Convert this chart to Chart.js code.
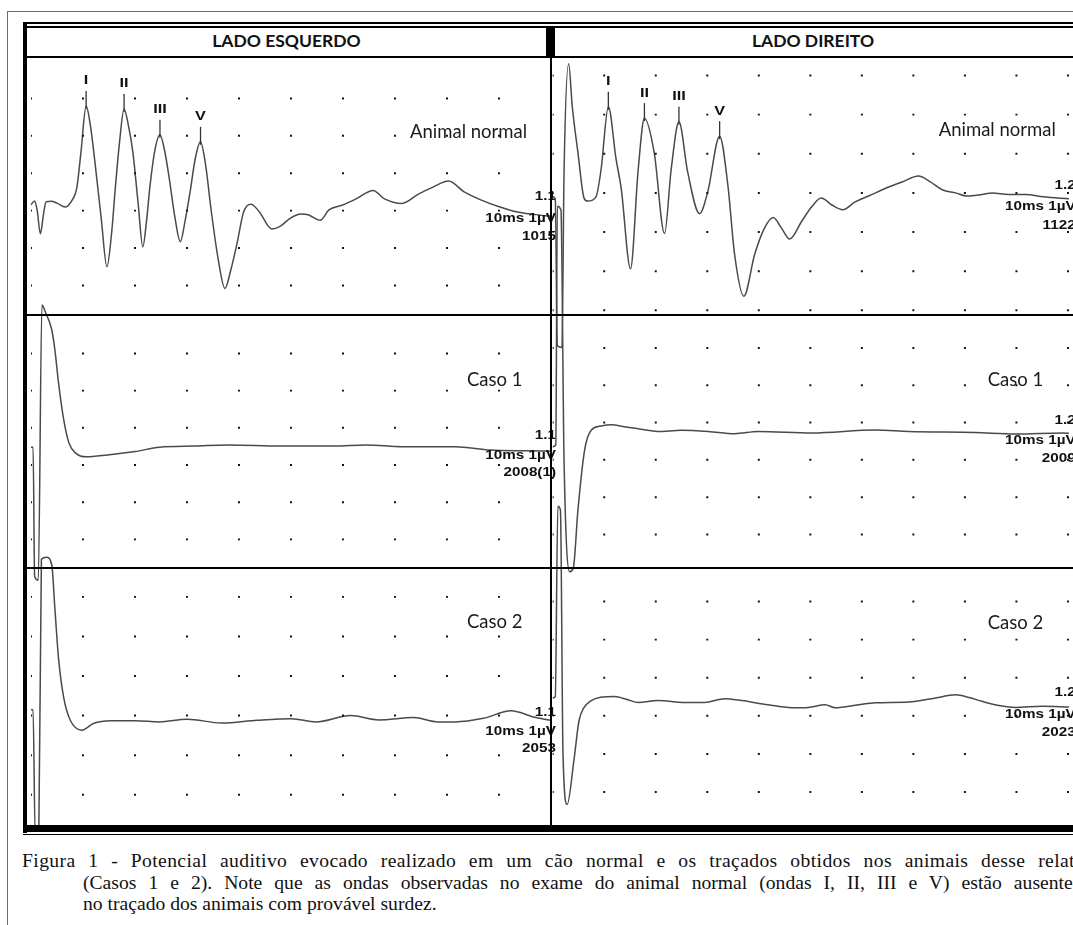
<!DOCTYPE html>
<html>
<head>
<meta charset="utf-8">
<title>Potencial auditivo evocado</title>
<script src="https://cdn.jsdelivr.net/npm/chart.js@4.4.1/dist/chart.umd.min.js"></script>
<style>
  html, body { margin: 0; padding: 0; background: #fff; width: 1073px; height: 925px; overflow: hidden; }
  .abs { position: absolute; }
  .blk { position: absolute; background: #000; }
  #outer { left: 7px; top: 11px; width: 1100px; height: 1000px; border-top: 1px solid #6b6b6b; border-left: 1px solid #6b6b6b; }
  .side { position: absolute; top: 30px; height: 26px; line-height: 26px; text-align: center;
          font: bold 17.5px Lato, sans-serif; color: #111; }
  .cap { position: absolute; font: 18px "Liberation Serif", "Times New Roman", serif; color: #111;
         line-height: 21px; white-space: nowrap; transform-origin: left top; transform: scaleX(1.09); }
  .just { white-space: normal; text-align: justify; text-align-last: justify; }
  canvas { position: absolute; left: 27px; top: 57px; }
</style>
</head>
<body>
<div id="outer" class="abs"></div>
<div id="charts"></div>

<!-- moldura da figura -->
<div class="blk" style="left:23px; top:22px; width:1060px; height:2px;"></div>
<div class="blk" style="left:23px; top:26px; width:1060px; height:2px;"></div>
<div class="blk" style="left:23px; top:22px; width:4px; height:811px;"></div>
<div class="blk" style="left:27px; top:56px; width:1050px; height:2px;"></div>
<div class="blk" style="left:546px; top:27px; width:9px; height:30px;"></div>
<div class="blk" style="left:550px; top:57px; width:2px; height:771px;"></div>
<div class="blk" style="left:27px; top:314px; width:1050px; height:2px;"></div>
<div class="blk" style="left:27px; top:567px; width:1050px; height:2px;"></div>
<div class="blk" style="left:23px; top:825px; width:1060px; height:7px;"></div>
<div class="blk" style="left:23px; top:834px; width:1060px; height:1px;"></div>

<div id="sideL" class="side" style="left:27px; width:519px;"></div>
<div id="sideR" class="side" style="left:555px; width:516px;"></div>

<div class="cap just" style="left:22px; top:851px; width:966px; letter-spacing:0.35px;">Figura 1 - Potencial auditivo evocado realizado em um cão normal e os traçados obtidos nos animais desse relat</div>
<div class="cap just" style="left:83px; top:873px; width:908px;">(Casos 1 e 2). Note que as ondas observadas no exame do animal normal (ondas I, II, III e V) estão ausente</div>
<div class="cap" style="left:83px; top:894px;">no traçado dos animais com provável surdez.</div>

<script>
// ---- dados (x em divisões de 1 quadrícula, y em divisões) ----
const sideTitles = ["LADO ESQUERDO", "LADO DIREITO"];
const rowNames = ["Animal normal", "Caso 1", "Caso 2"];
const sweepText = "10ms 1µV";
const gainLeft = "1.1";
const gainRight = "1.2";
const recordLeft = ["1015", "2008(1)", "2053"];
const recordRight = ["1122", "2009", "2023"];

const gridCols = [0, 1, 2, 3, 4, 5, 6, 7, 8, 9, 10];
const gridRows = [-2, -1, 0, 1, 2, 3];
const gridRowsTopRight = [-3, -2, -1, 0, 1, 2, 3];

// animal normal - lado esquerdo
const normalLeftX = [0, 0.07, 0.12, 0.18, 0.24, 0.29, 0.39, 0.5, 0.66, 0.8, 0.88, 0.96, 1.06, 1.14, 1.23, 1.35, 1.46, 1.55, 1.62, 1.7, 1.79, 1.87, 1.96, 2.06, 2.15, 2.22, 2.29, 2.38, 2.48, 2.57, 2.66, 2.77, 2.87, 2.96, 3.06, 3.16, 3.26, 3.36, 3.46, 3.6, 3.73, 3.84, 3.96, 4.09, 4.23, 4.39, 4.63, 4.79, 4.99, 5.19, 5.33, 5.56, 5.73, 5.99, 6.26, 6.58, 6.79, 7.13, 7.46, 7.73, 8.03, 8.33, 8.66, 8.99, 9.33, 9.66, 10];
const normalLeftY = [0.16, 0.26, 0.0, -0.62, -0.1, 0.24, 0.25, 0.2, 0.1, 0.3, 0.6, 1.55, 2.8, 2.3, 1.29, -0.2, -1.5, -0.6, 0.58, 1.8, 2.72, 2.3, 1.55, 0.2, -0.97, -0.3, 0.68, 1.6, 2.03, 1.6, 0.85, -0.2, -0.83, -0.3, 0.5, 1.4, 1.84, 1.2, 0.06, -1.3, -2.08, -1.6, -0.89, -0.03, 0.17, -0.03, -0.49, -0.42, -0.2, -0.09, -0.11, -0.26, 0.02, 0.15, 0.32, 0.54, 0.32, 0.19, 0.45, 0.63, 0.79, 0.5, 0.28, 0.11, -0.03, -0.1, -0.15];

// animal normal - lado direito
const normalRightX = [0, 0.05, 0.09, 0.18, 0.22, 0.31, 0.38, 0.49, 0.61, 0.68, 0.84, 0.94, 1.08, 1.23, 1.33, 1.51, 1.66, 1.78, 1.97, 2.17, 2.3, 2.45, 2.62, 2.85, 3.01, 3.24, 3.4, 3.53, 3.71, 3.92, 4.11, 4.28, 4.44, 4.6, 4.83, 5.03, 5.21, 5.42, 5.63, 5.87, 6.13, 6.52, 6.78, 7.1, 7.33, 7.56, 7.82, 8.04, 8.33, 8.53, 8.85, 9.18, 9.52, 10.02];
const normalRightY = [-0.1, -0.15, -3.9, -3.95, 0.5, 3.3, 2.2, 1.03, -0.14, -0.21, -0.1, 0.61, 2.2, 0.86, 0.11, -1.94, 0.61, 1.91, 1.03, -1.04, 0.61, 1.82, 0.53, -0.53, 0.03, 1.45, 0.19, -1.57, -2.64, -1.57, -0.9, -0.63, -0.9, -1.18, -0.73, -0.35, -0.13, -0.31, -0.43, -0.23, -0.08, 0.15, 0.28, 0.43, 0.28, 0.08, 0.0, -0.08, -0.04, 0.0, -0.04, -0.04, -0.1, -0.15];

// caso 1
const case1LeftX = [0, 0.04, 0.07, 0.14, 0.21, 0.28, 0.4, 0.46, 0.53, 0.63, 0.73, 0.86, 1.06, 1.47, 2.0, 2.47, 3.14, 3.81, 4.81, 5.82, 6.45, 7.15, 8.16, 8.83, 9.5, 10];
const case1LeftY = [0.48, 0.48, -3.0, -3.1, 4.3, 4.1, 3.63, 3.09, 2.2, 1.21, 0.59, 0.32, 0.22, 0.27, 0.36, 0.48, 0.51, 0.54, 0.51, 0.51, 0.54, 0.49, 0.49, 0.4, 0.38, 0.37];
const case1RightX = [0, 0.06, 0.09, 0.16, 0.22, 0.33, 0.4, 0.49, 0.62, 0.75, 0.94, 1.14, 1.39, 1.71, 2.04, 2.5, 3.02, 3.53, 3.99, 5.03, 6.26, 6.91, 8.2, 8.98, 9.9, 10.02];
const case1RightY = [0.35, 0.4, 6.8, 6.7, 0.0, -3.0, -2.9, -1.34, 0.27, 0.8, 0.91, 0.94, 0.89, 0.82, 0.76, 0.79, 0.76, 0.7, 0.76, 0.72, 0.8, 0.76, 0.73, 0.69, 0.72, 0.71];

// caso 2
const case2LeftX = [0, 0.04, 0.08, 0.15, 0.2, 0.3, 0.4, 0.46, 0.53, 0.63, 0.76, 0.98, 1.2, 1.53, 2.0, 2.47, 3.0, 3.67, 4.35, 5.01, 5.48, 6.15, 6.69, 7.36, 7.83, 8.16, 8.7, 9.23, 9.7, 10];
const case2LeftY = [0.15, 0.15, -3.0, -3.0, 3.95, 4.0, 3.8, 2.69, 1.44, 0.45, -0.13, -0.37, -0.2, -0.13, -0.13, -0.16, -0.09, -0.19, -0.12, -0.08, -0.16, 0.0, -0.11, -0.05, -0.16, -0.16, -0.07, 0.12, -0.05, -0.12];
const case2RightX = [0, 0.05, 0.1, 0.15, 0.2, 0.28, 0.41, 0.51, 0.6, 0.74, 0.93, 1.2, 1.46, 1.66, 2.04, 2.56, 2.95, 3.34, 3.67, 4.18, 4.7, 4.96, 5.29, 5.48, 5.94, 6.26, 6.91, 7.43, 7.82, 8.08, 8.33, 8.66, 8.98, 9.5, 10.02];
const case2RightY = [0.47, 0.5, 5.5, 5.4, -1.0, -2.33, -1.19, -0.13, 0.2, 0.39, 0.49, 0.51, 0.42, 0.35, 0.4, 0.35, 0.35, 0.45, 0.4, 0.29, 0.21, 0.22, 0.29, 0.21, 0.29, 0.34, 0.36, 0.47, 0.55, 0.48, 0.38, 0.27, 0.22, 0.25, 0.23];

// ondas marcadas no animal normal
const waveNames = ["I", "II", "III", "V"];
const peakLeftX = [1.06, 1.79, 2.48, 3.26];
const peakLeftY = [2.8, 2.72, 2.03, 1.84];
const peakRightX = [1.08, 1.78, 2.45, 3.24];
const peakRightY = [2.2, 1.91, 1.82, 1.45];

document.getElementById("sideL").textContent = sideTitles[0];
document.getElementById("sideR").textContent = sideTitles[1];

// ---- layout dos seis painéis (pixels da página) ----
const CANVAS_X = 27, CANVAS_Y = 57, CANVAS_W = 1046, CANVAS_H = 771;

var panels = [
  { box: [28, 551, 57, 315], xMax: 10, yMin: -2.79, yMax: 4.0, rows: gridRows,
    xs: normalLeftX, ys: normalLeftY, name: rowNames[0], nameAt: [379, 71],
    block: [gainLeft, sweepText, recordLeft[0]], blockRight: 525, blockY: [136, 158, 176],
    peaks: [peakLeftX, peakLeftY] },
  { box: [28, 551, 315.5, 568], xMax: 10, yMin: -2.77, yMax: 4.02, rows: gridRows,
    xs: case1LeftX, ys: case1LeftY, name: rowNames[1], nameAt: [436, 64.5],
    block: [gainLeft, sweepText, recordLeft[1]], blockRight: 525, blockY: [120.5, 140.5, 157.5] },
  { box: [28, 551, 568, 828], xMax: 10, yMin: -2.74, yMax: 3.73, rows: gridRows,
    xs: case2LeftX, ys: case2LeftY, name: rowNames[2], nameAt: [436, 54],
    block: [gainLeft, sweepText, recordLeft[2]], blockRight: 525, blockY: [145, 164, 181] },
  { box: [552.7, 1073, 57, 315], xMax: 10.02, yMin: -3.12, yMax: 3.37, rows: gridRowsTopRight,
    xs: normalRightX, ys: normalRightY, name: rowNames[0], nameAt: [386, 69],
    block: [gainRight, sweepText, recordRight[0]], blockRight: 523, blockY: [125, 146, 165],
    peaks: [peakRightX, peakRightY] },
  { box: [552.7, 1073, 315.5, 568], xMax: 10.02, yMin: -2.9, yMax: 3.87, rows: gridRows,
    xs: case1RightX, ys: case1RightY, name: rowNames[1], nameAt: [435, 64.5],
    block: [gainRight, sweepText, recordRight[1]], blockRight: 523, blockY: [105.5, 125.5, 143.5] },
  { box: [552.7, 1073, 568, 828], xMax: 10.02, yMin: -2.84, yMax: 3.88, rows: gridRows,
    xs: case2RightX, ys: case2RightY, name: rowNames[2], nameAt: [435, 55],
    block: [gainRight, sweepText, recordRight[2]], blockRight: 523, blockY: [125, 147, 165] }
];

function toPoints(xs, ys) {
  return xs.map(function (x, i) { return { x: x, y: ys[i] }; });
}

function gridPoints(cols, rows) {
  var pts = [];
  rows.forEach(function (r) { cols.forEach(function (c) { pts.push({ x: c, y: r }); }); });
  return pts;
}

// textos do painel: nome, bloco de calibração e marcas das ondas
const panelText = {
  id: "panelText",
  afterDatasetsDraw(chart, args, opts) {
    if (!opts || !opts.name) return;
    const ctx = chart.ctx, a = chart.chartArea;
    const sx = chart.scales.x, sy = chart.scales.y;
    ctx.save();
    ctx.textBaseline = "middle";

    ctx.fillStyle = "#1c1c1c";
    ctx.font = "18.5px Lato, sans-serif";
    ctx.textAlign = "left";
    ctx.fillText(opts.name, a.left + opts.nameAt[0], a.top + opts.nameAt[1]);

    ctx.fillStyle = "#111";
    ctx.font = "bold 12.5px 'Liberation Sans', Arial, sans-serif";
    ctx.textAlign = "right";
    opts.block.forEach(function (s, i) {
      ctx.save();
      ctx.translate(a.left + opts.blockRight, a.top + opts.blockY[i]);
      ctx.scale(1.22, 1);
      ctx.fillText(s, 0, 0);
      ctx.restore();
    });

    if (opts.peaks) {
      ctx.strokeStyle = "#333";
      ctx.lineWidth = 1.3;
      ctx.textAlign = "center";
      ctx.font = "bold 13px 'Liberation Sans', Arial, sans-serif";
      opts.peaks[0].forEach(function (v, i) {
        const px = sx.getPixelForValue(v);
        const py = sy.getPixelForValue(opts.peaks[1][i]);
        ctx.beginPath();
        ctx.moveTo(px, py + 3);
        ctx.lineTo(px, py - 15);
        ctx.stroke();
        ctx.save();
        ctx.translate(px, py - 25);
        ctx.scale(1.25, 1);
        ctx.fillText(waveNames[i], 0, 0);
        ctx.restore();
      });
    }
    ctx.restore();
  }
};
Chart.register(panelText);

var holder = document.getElementById("charts");
panels.forEach(function (p) {
  var canvas = document.createElement("canvas");
  canvas.width = CANVAS_W;
  canvas.height = CANVAS_H;
  canvas.style.width = CANVAS_W + "px";
  canvas.style.height = CANVAS_H + "px";
  holder.appendChild(canvas);

  new Chart(canvas, {
    type: "line",
    data: {
      datasets: [
        {
          data: gridPoints(gridCols, p.rows),
          showLine: false,
          pointStyle: "rect",
          pointRadius: 1.4,
          pointBackgroundColor: "#111",
          pointBorderWidth: 0
        },
        {
          data: toPoints(p.xs, p.ys),
          borderColor: "#4a4a4a",
          borderWidth: 1.5,
          pointRadius: 0,
          fill: false,
          cubicInterpolationMode: "monotone",
          clip: false
        }
      ]
    },
    options: {
      responsive: false,
      animation: false,
      events: [],
      layout: {
        padding: {
          left: p.box[0] - CANVAS_X,
          right: CANVAS_X + CANVAS_W - p.box[1],
          top: p.box[2] - CANVAS_Y,
          bottom: CANVAS_Y + CANVAS_H - p.box[3]
        }
      },
      scales: {
        x: { type: "linear", min: 0, max: p.xMax, display: false },
        y: { type: "linear", min: p.yMin, max: p.yMax, display: false }
      },
      plugins: {
        legend: { display: false },
        tooltip: { enabled: false },
        panelText: { name: p.name, nameAt: p.nameAt, block: p.block, blockRight: p.blockRight, blockY: p.blockY, peaks: p.peaks }
      }
    }
  });
});
</script>
</body>
</html>
